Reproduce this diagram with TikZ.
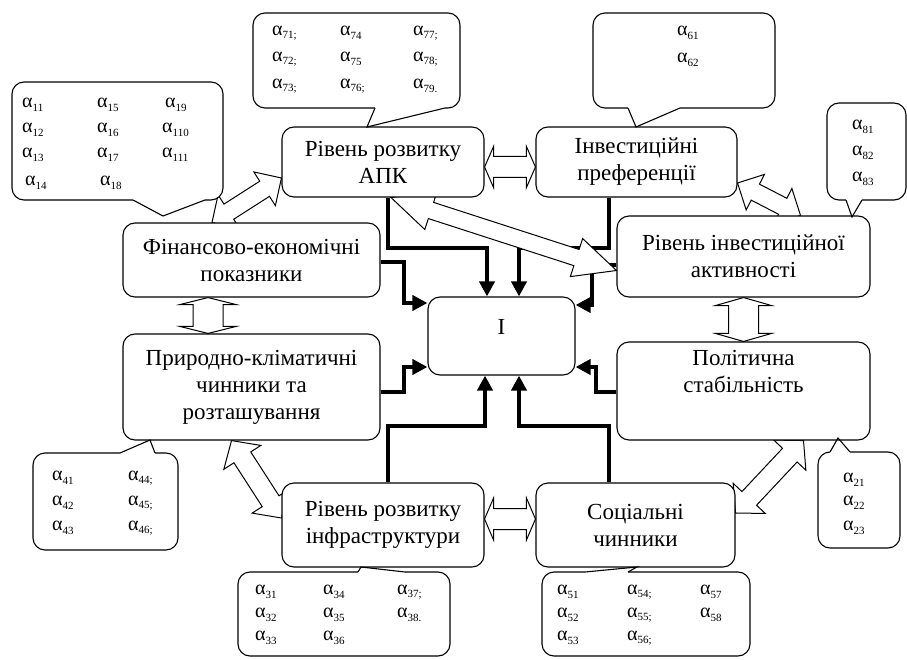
\documentclass[tikz,border=0pt]{standalone}
\usepackage{fontspec}
\setmainfont{Liberation Serif}
\usetikzlibrary{calc,arrows.meta}
\newcommand{\alp}[1]{α\raisebox{-3.5pt}{\fontsize{11}{11}\selectfont #1}}
% double block arrow: A, B, head length, shaft half width, head half width
\newcommand{\dblarrow}[5]{%
  \coordinate (dp) at ($(#1)!#3!(#2)$);
  \coordinate (dq) at ($(#2)!#3!(#1)$);
  \draw[warrow] (#1) -- ($(dp)!#5!90:(#2)$) -- ($(dp)!#4!90:(#2)$) -- ($(dq)!#4!-90:(#1)$) -- ($(dq)!#5!-90:(#1)$) -- (#2)
     -- ($(dq)!#5!90:(#1)$) -- ($(dq)!#4!90:(#1)$) -- ($(dp)!#4!-90:(#2)$) -- ($(dp)!#5!-90:(#2)$) -- cycle;}
\newcommand{\pointer}[3]{\draw[white, line width=2.6pt] (#1) -- (#3); \draw[line width=1.1pt, line join=miter] (#1) -- (#2) -- (#3);}
\begin{document}
\begin{tikzpicture}[x=1pt, y=-1pt,
  box/.style={draw, line width=1.1pt, rounded corners=12pt, fill=white, align=center, inner sep=0pt, font=\fontsize{23}{27}\selectfont},
  txt/.style={align=center, inner sep=0pt, font=\fontsize{23}{27}\selectfont},
  conn/.style={line width=4pt, line join=miter, -{Triangle[length=15pt,width=15pt]}},
  warrow/.style={draw, fill=white, line width=1pt, line join=miter},
  bub/.style={draw, line width=1.1pt, rounded corners=12pt, fill=white, inner sep=0pt},
  al/.style={anchor=west, inner sep=0pt, font=\fontsize{20}{20}\selectfont}]
\useasboundingbox (0,0) rectangle (907,660);
\fill[white] (0,0) rectangle (907,660);

% ---------- node geometry ----------
\path
  (383,162)   node[box, minimum width=202pt, minimum height=70pt, draw=none, fill=none] (apk) {}
  (636.5,162) node[box, minimum width=201pt, minimum height=70pt, draw=none, fill=none] (inv) {}
  (251.5,260) node[box, minimum width=257pt, minimum height=74pt, draw=none, fill=none] (fin) {}
  (251.5,387) node[box, minimum width=257pt, minimum height=106pt, draw=none, fill=none] (pryr) {}
  (501.5,336) node[box, minimum width=147pt, minimum height=78pt, draw=none, fill=none] (I) {}
  (743.5,256.5) node[box, minimum width=253pt, minimum height=81pt, draw=none, fill=none] (akt) {}
  (743.5,391) node[box, minimum width=253pt, minimum height=98pt, draw=none, fill=none] (pol) {}
  (383,525)   node[box, minimum width=202pt, minimum height=84pt, draw=none, fill=none] (infra) {}
  (635.5,525) node[box, minimum width=199pt, minimum height=84pt, draw=none, fill=none] (soc) {};

% ---------- thick connectors to I ----------
\draw[conn] ([xshift=5pt]apk.south) -- ++(0,50) -| ([xshift=-14.5pt]I.north);
\draw[conn] ([xshift=-28pt]inv.south) -- ++(0,50) -| ([xshift=17.5pt]I.north);
\draw[conn] ([yshift=-8.5pt]akt.west) -- ++(-24,0) |- ([yshift=31pt]I.east);
\draw[conn] ([yshift=-2pt]fin.east) -- ++(23,0) |- ([yshift=33pt]I.west);
\draw[conn] ([yshift=-5pt]pryr.east) -- ++(23,0) |- ([yshift=-31pt]I.west);
\draw[conn] ([yshift=-1pt]pol.west) -- ++(-20,0) |- ([yshift=-31pt]I.east);
\draw[conn] ([xshift=5pt]infra.north) -- ++(0,-56) -| ([xshift=-16.5pt]I.south);
\draw[conn] ([xshift=-26.5pt]soc.north) -- ++(0,-56) -| ([xshift=17.5pt]I.south);

% ---------- white double block arrows ----------
\coordinate (w1a) at ([yshift=-5pt]apk.east);   \coordinate (w1b) at ([yshift=-5pt]inv.west);
\coordinate (w2a) at ([yshift=6pt]infra.east);  \coordinate (w2b) at ([yshift=6pt]soc.west);
\coordinate (w3a) at ([xshift=-43.5pt]fin.south); \coordinate (w3b) at ([xshift=-43.5pt]pryr.north);
\coordinate (w4a) at (akt.south);               \coordinate (w4b) at (pol.north);
\coordinate (w5a) at ([yshift=-16pt]apk.west);  \coordinate (w5b) at ([xshift=-39.5pt]fin.north);
\coordinate (w6a) at ([yshift=-21pt]inv.east);  \coordinate (w6b) at ([xshift=57pt]akt.north);
\coordinate (w7a) at ([xshift=-20pt]pryr.south); \coordinate (w7b) at ([yshift=7pt]infra.west);
\coordinate (w8a) at ([yshift=12pt]soc.east);   \coordinate (w8b) at ([xshift=60pt]pol.south);
\coordinate (w9a) at ([xshift=8pt]apk.south);   \coordinate (w9b) at ([yshift=-14pt]akt.west);
\dblarrow{w1a}{w1b}{9pt}{10.5pt}{20.5pt}
\dblarrow{w2a}{w2b}{9pt}{10.5pt}{21pt}
\dblarrow{w3a}{w3b}{7pt}{15pt}{28pt}
\dblarrow{w4a}{w4b}{8pt}{15pt}{28pt}
\dblarrow{w5a}{w5b}{20pt}{9pt}{20pt}
\dblarrow{w6a}{w6b}{20pt}{9pt}{20pt}
\dblarrow{w7a}{w7b}{20pt}{10pt}{22pt}
\dblarrow{w8a}{w8b}{20pt}{10pt}{22pt}
\dblarrow{w9a}{w9b}{42pt}{8.5pt}{20pt}

% ---------- boxes ----------
\node[box, minimum width=202pt, minimum height=70pt] (apkB) at (apk) {Рівень розвитку\\АПК};
\node[box, minimum width=201pt, minimum height=70pt] (invB) at (inv) {Інвестиційні\\преференції};
\node[box, minimum width=257pt, minimum height=74pt] (finB) at (fin) {Фінансово-економічні\\показники};
\node[box, minimum width=257pt, minimum height=106pt] (pryrB) at (pryr) {Природно-кліматичні\\чинники та\\розташування};
\node[box, minimum width=147pt, minimum height=78pt] (IB) at (I) {};
\node[txt] (Itxt) at ([yshift=9pt]I.center) {I};
\node[box, minimum width=253pt, minimum height=81pt] (aktB) at (akt) {Рівень інвестиційної\\активності};
\node[box, minimum width=253pt, minimum height=98pt] (polB) at (pol) {};
\node[txt] (poltxt) at ([yshift=20pt]pol.center) {Політична\\стабільність};
\node[box, minimum width=202pt, minimum height=84pt] (infraB) at (infra) {Рівень розвитку\\інфраструктури};
\node[box, minimum width=199pt, minimum height=84pt] (socB) at (soc) {Соціальні\\чинники};

% ---------- bubbles ----------
\node[bub, minimum width=211pt, minimum height=118pt] (b1) at (117.5,141) {};
\node[bub, minimum width=207pt, minimum height=95pt] (b7) at (356.5,60.5) {};
\node[bub, minimum width=182pt, minimum height=95pt] (b6) at (684,60.5) {};
\node[bub, minimum width=79pt, minimum height=97pt] (b8) at (866.5,151.5) {};
\node[bub, minimum width=145pt, minimum height=97pt] (b4) at (105.5,501.5) {};
\node[bub, minimum width=212pt, minimum height=84pt] (b3) at (344,614) {};
\node[bub, minimum width=208pt, minimum height=84pt] (b5) at (646,614) {};
\node[bub, minimum width=82pt, minimum height=96pt] (b2) at (859,500) {};

\coordinate (p1l) at (133,200); \coordinate (p1t) at (163,216); \coordinate (p1r) at (205,200);
\coordinate (p7l) at (375,108); \coordinate (p7t) at (367,127); \coordinate (p7r) at (445,108);
\coordinate (p6l) at (628,108); \coordinate (p6t) at (636,127); \coordinate (p6r) at (680,108);
\coordinate (p8l) at (846,200); \coordinate (p8t) at (852,217); \coordinate (p8r) at (862,200);
\coordinate (p4l) at (120,453); \coordinate (p4t) at (150,440); \coordinate (p4r) at (155,453);
\coordinate (p3l) at (358,572); \coordinate (p3t) at (361,567); \coordinate (p3r) at (405,572);
\coordinate (p5l) at (585,572); \coordinate (p5t) at (637,567); \coordinate (p5r) at (628,572);
\coordinate (p2l) at (830,452); \coordinate (p2t) at (838,438); \coordinate (p2r) at (850,452);
\pointer{p1l}{p1t}{p1r}
\pointer{p7l}{p7t}{p7r}
\pointer{p6l}{p6t}{p6r}
\pointer{p8l}{p8t}{p8r}
\pointer{p4l}{p4t}{p4r}
\pointer{p3l}{p3t}{p3r}
\pointer{p5l}{p5t}{p5r}
\pointer{p2l}{p2t}{p2r}

% ---------- alpha labels ----------
\node[al] (a11) at (22,105) {\alp{11}};
\node[al] (a12) at (22,130) {\alp{12}};
\node[al] (a13) at (22,155) {\alp{13}};
\node[al] (a14) at (25,183) {\alp{14}};
\node[al] (a15) at (97,105) {\alp{15}};
\node[al] (a16) at (97,130) {\alp{16}};
\node[al] (a17) at (97,155) {\alp{17}};
\node[al] (a18) at (100,183) {\alp{18}};
\node[al] (a19) at (165,105) {\alp{19}};
\node[al] (a110) at (162,130) {\alp{110}};
\node[al] (a111) at (162,155) {\alp{111}};

\node[al] (a71) at (272,33) {\alp{71;}};
\node[al] (a72) at (272,59) {\alp{72;}};
\node[al] (a73) at (272,86) {\alp{73;}};
\node[al] (a74) at (340,33) {\alp{74}};
\node[al] (a75) at (340,59) {\alp{75}};
\node[al] (a76) at (340,86) {\alp{76;}};
\node[al] (a77) at (413,33) {\alp{77;}};
\node[al] (a78) at (413,59) {\alp{78;}};
\node[al] (a79) at (413,86) {\alp{79.}};

\node[al] (a61) at (677,33) {\alp{61}};
\node[al] (a62) at (677,60) {\alp{62}};

\node[al] (a81) at (852,127) {\alp{81}};
\node[al] (a82) at (852,153) {\alp{82}};
\node[al] (a83) at (852,179) {\alp{83}};

\node[al] (a41) at (52,478) {\alp{41}};
\node[al] (a42) at (52,503) {\alp{42}};
\node[al] (a43) at (52,528) {\alp{43}};
\node[al] (a44) at (128,478) {\alp{44;}};
\node[al] (a45) at (128,503) {\alp{45;}};
\node[al] (a46) at (128,528) {\alp{46;}};

\node[al] (a31) at (255,592) {\alp{31}};
\node[al] (a32) at (255,615) {\alp{32}};
\node[al] (a33) at (255,638) {\alp{33}};
\node[al] (a34) at (323,592) {\alp{34}};
\node[al] (a35) at (323,615) {\alp{35}};
\node[al] (a36) at (323,638) {\alp{36}};
\node[al] (a37) at (397,592) {\alp{37;}};
\node[al] (a38) at (397,615) {\alp{38.}};

\node[al] (a51) at (557,592) {\alp{51}};
\node[al] (a52) at (557,615) {\alp{52}};
\node[al] (a53) at (557,638) {\alp{53}};
\node[al] (a54) at (627,592) {\alp{54;}};
\node[al] (a55) at (627,615) {\alp{55;}};
\node[al] (a56) at (627,638) {\alp{56;}};
\node[al] (a57) at (700,592) {\alp{57}};
\node[al] (a58) at (700,615) {\alp{58}};

\node[al] (a21) at (843,480) {\alp{21}};
\node[al] (a22) at (843,503) {\alp{22}};
\node[al] (a23) at (843,528) {\alp{23}};
\end{tikzpicture}
\end{document}
